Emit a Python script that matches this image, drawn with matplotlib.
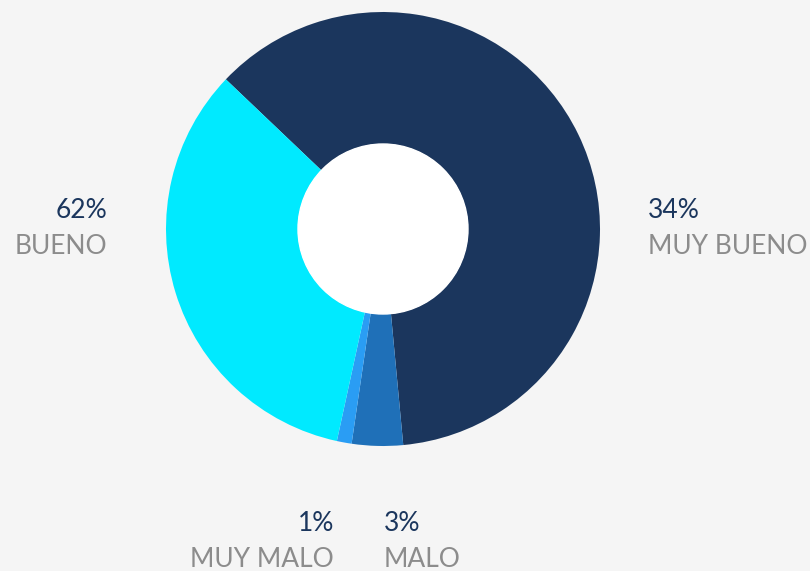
import matplotlib
matplotlib.use("Agg")
import matplotlib.pyplot as plt

categories = ["BUENO", "MALO", "MUY MALO", "MUY BUENO"]
values = [61.4, 3.8, 1.1, 33.7]
colors = ["#1b365d", "#1f70b8", "#2a9df4", "#00eaff"]
pct_labels = ["62%", "3%", "1%", "34%"]

W, H = 810, 571
fig = plt.figure(figsize=(W / 100, H / 100), dpi=100)
fig.patch.set_facecolor("#f5f5f5")

cx, cy, r = 383, 229, 217
ax = fig.add_axes([(cx - r) / W, (H - cy - r) / H, 2 * r / W, 2 * r / H])
ax.set_facecolor("none")
ax.pie(values, colors=colors, startangle=136.4, counterclock=False,
       radius=1.0, wedgeprops=dict(width=1 - 85 / 217, linewidth=0))
ax.add_patch(plt.Circle((0, 0), 85 / 217, color="white", zorder=5))
ax.set_xlim(-1, 1)
ax.set_ylim(-1, 1)
ax.set_aspect("equal")
ax.axis("off")

font = "Lato"
navy = "#1b365d"
gray = "#8c8c8c"
fs = 19


def put(x, y, s, color, ha):
    fig.text(x / W, 1 - y / H, s, color=color, ha=ha, va="baseline",
             fontsize=fs, family=font, fontweight="normal")


# label layout: (category index, x, baseline of pct, alignment)
layout = [(0, 107, 218, "right"), (3, 648, 218, "left"),
          (2, 334, 531, "right"), (1, 384, 531, "left")]
for i, x, y, ha in layout:
    put(x, y, pct_labels[i], navy, ha)
    put(x, y + 36, categories[i], gray, ha)

fig.savefig("out.png", dpi=100, facecolor=fig.get_facecolor())
